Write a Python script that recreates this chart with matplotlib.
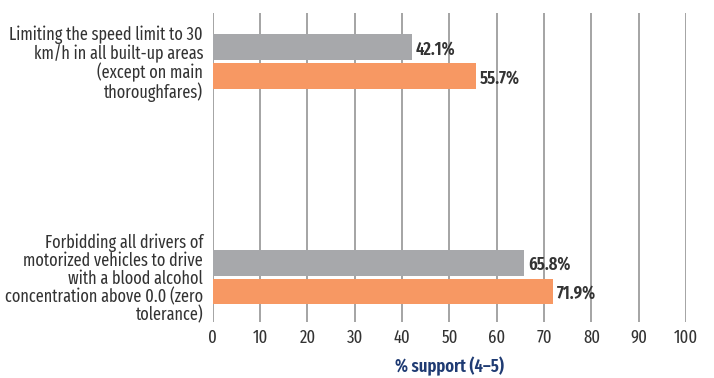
import matplotlib
matplotlib.use('Agg')
import matplotlib.pyplot as plt

categories = [
    'Limiting the speed limit to 30\nkm/h in all built-up areas\n(except on main\nthoroughfares)',
    'Forbidding all drivers of\nmotorized vehicles to drive\nwith a blood alcohol\nconcentration above 0.0 (zero\ntolerance)',
]
gray_values = [42.1, 65.8]
orange_values = [55.7, 71.9]
x_ticks = [0, 10, 20, 30, 40, 50, 60, 70, 80, 90, 100]

plt.rcParams['font.family'] = ['Fira Sans Extra Condensed', 'DejaVu Sans']

fig = plt.figure(figsize=(7.14, 3.78), dpi=100)
ax = fig.add_axes([0.298, 0.148, 0.663, 0.8175])

text_color = '#333333'
ypos = [0, 1]
off = 0.067
h = 0.12
ax.barh([y - off for y in ypos], gray_values, height=h, color='#a7a8ab', zorder=3)
ax.barh([y + off for y in ypos], orange_values, height=h, color='#f79863', zorder=3)

for y, v in zip(ypos, gray_values):
    ax.text(v + 0.8, y - off + 0.01, f'{v}%', va='center', ha='left', fontsize=13,
            fontweight='semibold', color=text_color)
for y, v in zip(ypos, orange_values):
    ax.text(v + 0.8, y + off + 0.01, f'{v}%', va='center', ha='left', fontsize=13,
            fontweight='semibold', color=text_color)

ax.set_xlim(0, 100)
ax.set_ylim(1.209, -0.225)
ax.set_xticks(x_ticks)
ax.set_xticklabels([str(t) for t in x_ticks], fontsize=13, color=text_color)
ax.set_yticks(ypos)
ax.set_yticklabels(categories, fontsize=12.7, color=text_color, linespacing=1.0)
ax.tick_params(axis='both', length=0)
ax.tick_params(axis='x', pad=5)
ax.tick_params(axis='y', pad=7)
ax.grid(axis='x', color='#8c8c8c', linewidth=1.1, zorder=0)
for s in ax.spines.values():
    s.set_visible(False)

ax.set_xlabel('% support (4–5)', fontsize=13, fontweight='semibold', color='#1f3b73', labelpad=7)

fig.savefig('out.png', dpi=100)
